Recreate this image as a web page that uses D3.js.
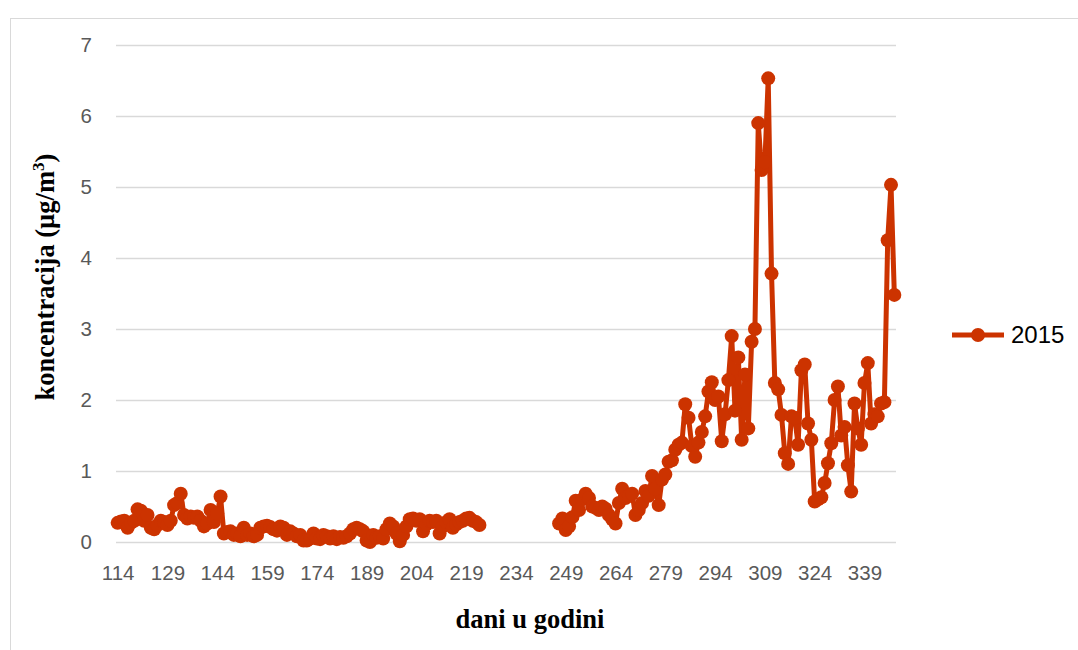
<!DOCTYPE html>
<html>
<head>
<meta charset="utf-8">
<script src="https://cdn.jsdelivr.net/npm/d3@7"></script>
<style>
  html, body { margin: 0; padding: 0; background: #fff; }
  svg { display: block; }
</style>
</head>
<body>
<svg id="chart" width="1078" height="650"></svg>
<script>
const width = 1078
const height = 650

// day of year where each block of measurements starts
const startSpring = 114
const startAutumn = 247

// daily concentration, days 114..224
const valuesSpring = [
  0.27, 0.29, 0.30, 0.20, 0.27, 0.30, 0.46, 0.44, 0.30, 0.38,
  0.20, 0.18, 0.24, 0.30, 0.28, 0.24, 0.30, 0.52, 0.55, 0.68,
  0.38, 0.33, 0.36, 0.34, 0.36, 0.30, 0.22, 0.26, 0.45, 0.28,
  0.40, 0.64, 0.12, 0.14, 0.15, 0.10, 0.12, 0.08, 0.20, 0.10,
  0.12, 0.08, 0.10, 0.20, 0.22, 0.23, 0.21, 0.18, 0.16, 0.22,
  0.20, 0.10, 0.15, 0.12, 0.08, 0.10, 0.02, 0.02, 0.05, 0.12,
  0.05, 0.04, 0.10, 0.08, 0.05, 0.08, 0.04, 0.07, 0.06, 0.08,
  0.12, 0.18, 0.20, 0.18, 0.15, 0.02, 0.00, 0.10, 0.06, 0.08,
  0.05, 0.18, 0.26, 0.22, 0.12, 0.01, 0.10, 0.22, 0.32, 0.33,
  0.30, 0.32, 0.15, 0.25, 0.30, 0.28, 0.30, 0.12, 0.22, 0.28,
  0.32, 0.20, 0.25, 0.28, 0.30, 0.33, 0.34, 0.30, 0.28, 0.24
]

// daily concentration, days 247..348
const valuesAutumn = [
  0.26, 0.33, 0.17, 0.22, 0.35, 0.58, 0.45, 0.60, 0.68, 0.62,
  0.50, 0.48, 0.45, 0.50, 0.47, 0.38, 0.32, 0.26, 0.55, 0.75,
  0.62, 0.65, 0.68, 0.38, 0.45, 0.55, 0.72, 0.65, 0.93, 0.75,
  0.52, 0.88, 0.95, 1.13, 1.15, 1.30, 1.37, 1.40, 1.94, 1.75,
  1.35, 1.20, 1.40, 1.55, 1.77, 2.12, 2.25, 2.00, 2.05, 1.42,
  1.80, 2.28, 2.90, 1.85, 2.60, 1.44, 2.36, 1.60, 2.82, 3.00,
  5.90, 5.24, 5.35, 6.53, 3.78, 2.24, 2.15, 1.79, 1.25, 1.10,
  1.77, 1.75, 1.37, 2.42, 2.50, 1.67, 1.44, 0.57, 0.60, 0.63,
  0.83, 1.11, 1.39, 2.00, 2.19, 1.50, 1.62, 1.08, 0.71, 1.95,
  1.60, 1.37, 2.24, 2.52, 1.67, 1.80, 1.77, 1.95, 1.97, 4.25,
  5.03, 3.48
]

const xTickLabels = [114, 129, 144, 159, 174, 189, 204, 219, 234, 249, 264, 279, 294, 309, 324, 339]
const yTickLabels = [0, 1, 2, 3, 4, 5, 6, 7]
const seriesName = '2015'

const lastDay = startAutumn + valuesAutumn.length - 1

// one entry per day, null where nothing was measured
const points = d3.range(startSpring, lastDay + 1).map(day => {
  let v = null
  if (day - startSpring < valuesSpring.length) v = valuesSpring[day - startSpring]
  else if (day >= startAutumn) v = valuesAutumn[day - startAutumn]
  return { day, v }
})

const plot = { left: 116, right: 896, top: 45, bottom: 542 }
const red = '#cc3300'
const tickFont = '20.5px "Liberation Sans", Arial, sans-serif'
const titleFont = 'bold 26.5px "Liberation Serif", "Times New Roman", serif'

const x = d3.scaleLinear()
  .domain([startSpring - 0.5, lastDay + 0.5])
  .range([plot.left, plot.right])

const y = d3.scaleLinear()
  .domain([0, 7])
  .range([plot.bottom, plot.top])

const svg = d3.select('#chart')

// chart area frame
svg.append('rect')
  .attr('x', 10.5)
  .attr('y', 18.5)
  .attr('width', 1100)
  .attr('height', 700)
  .attr('fill', 'none')
  .attr('stroke', '#d9d9d9')

// horizontal gridlines + y labels
const yAxis = svg.append('g')
  .attr('transform', `translate(${plot.left},0)`)
  .call(d3.axisLeft(y)
    .tickValues(yTickLabels)
    .tickFormat(d3.format('d'))
    .tickSize(-(plot.right - plot.left))
    .tickPadding(24))

yAxis.select('.domain').remove()
yAxis.selectAll('.tick line').attr('stroke', '#d9d9d9').attr('stroke-width', 1.3)
yAxis.selectAll('.tick text')
  .attr('fill', '#595959')
  .style('font', tickFont)

// x labels, no tick marks
const xAxis = svg.append('g')
  .attr('transform', `translate(0,${plot.bottom})`)
  .call(d3.axisBottom(x).tickValues(xTickLabels).tickSize(0).tickPadding(23))

xAxis.select('.domain').remove()
xAxis.selectAll('.tick text')
  .attr('fill', '#595959')
  .style('font', tickFont)

// axis titles
svg.append('text')
  .attr('x', 530)
  .attr('y', 628)
  .attr('text-anchor', 'middle')
  .style('font', titleFont)
  .text('dani u godini')

const yTitle = svg.append('text')
  .attr('transform', 'translate(54,277) rotate(-90)')
  .attr('text-anchor', 'middle')
  .style('font', titleFont)

yTitle.append('tspan').text('koncentracija (µg/m')
yTitle.append('tspan').attr('dy', -10).style('font-size', '17px').text('3')
yTitle.append('tspan').attr('dy', 10).text(')')

// the series
const line = d3.line()
  .defined(d => d.v !== null)
  .x(d => x(d.day))
  .y(d => y(d.v))

svg.append('path')
  .datum(points)
  .attr('fill', 'none')
  .attr('stroke', red)
  .attr('stroke-width', 5)
  .attr('stroke-linejoin', 'round')
  .attr('d', line)

svg.append('g')
  .selectAll('circle')
  .data(points.filter(d => d.v !== null))
  .enter().append('circle')
  .attr('cx', d => x(d.day))
  .attr('cy', d => y(d.v))
  .attr('r', 7)
  .attr('fill', red)

// legend
const legend = svg.append('g').attr('transform', 'translate(952,335)')
legend.append('line')
  .attr('x1', 0).attr('x2', 52)
  .attr('stroke', red)
  .attr('stroke-width', 5)
legend.append('circle')
  .attr('cx', 26)
  .attr('r', 7)
  .attr('fill', red)
legend.append('text')
  .attr('x', 59)
  .attr('dy', '0.35em')
  .attr('fill', '#000')
  .style('font', '24px "Liberation Sans", Arial, sans-serif')
  .text(seriesName)
</script>
</body>
</html>
